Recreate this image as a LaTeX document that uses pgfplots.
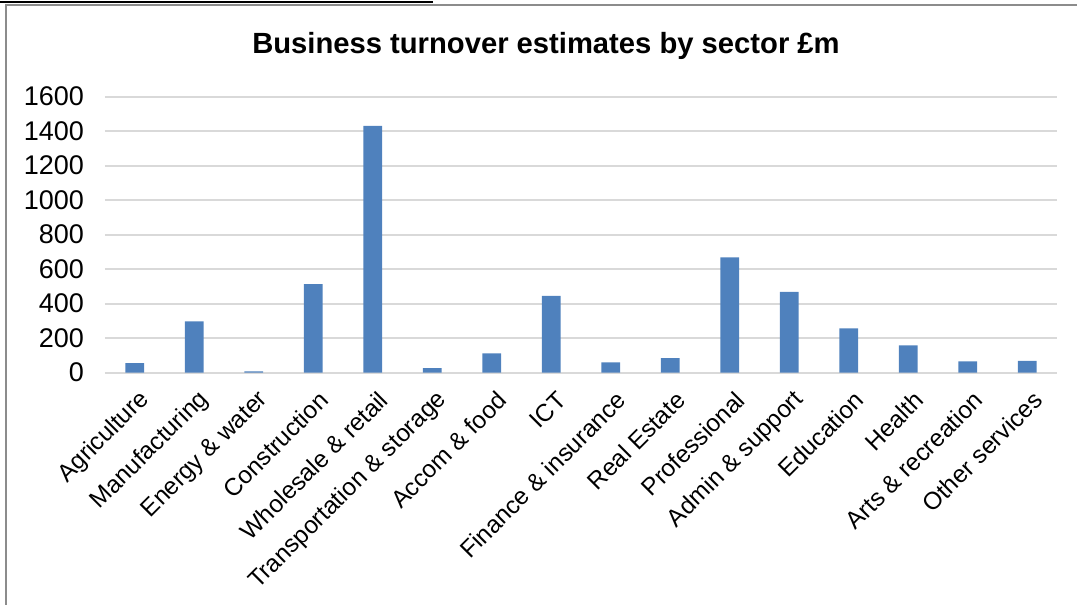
\documentclass[border=0pt]{standalone}
\usepackage{pgfplots}
\pgfplotsset{compat=1.18}
\usepackage{fontspec}
\setmainfont{Liberation Sans}
\definecolor{barblue}{HTML}{4F81BD}
\definecolor{gridgray}{HTML}{D9D9D9}
\definecolor{framegray}{HTML}{8C8C8C}
\begin{document}
\begin{tikzpicture}
\path[use as bounding box] (0,0) rectangle (538.5pt,302.5pt);
\draw[framegray, line width=1pt] (3pt,0) -- (3pt,300pt) -- (538.5pt,300pt);
\draw[black, line width=1.2pt] (0,301.6pt) -- (216.5pt,301.6pt);
\node[font=\bfseries\fontsize{14.6}{17}\selectfont] at (273pt,279.5pt) {Business turnover estimates by sector £m};
\begin{axis}[
  at={(52.5pt,116.15pt)}, anchor=south west,
  scale only axis, width=476pt, height=138pt,
  xmin=-0.5, xmax=15.5, ymin=0, ymax=1600,
  ytick={0,200,...,1600},
  xtick={0,...,15},
  xticklabels={Agriculture, Manufacturing, Energy \& water, Construction, Wholesale \& retail, Transportation \& storage, Accom \& food, ICT, Finance \& insurance, Real Estate, Professional, Admin \& support, Education, Health, Arts \& recreation, Other services},
  axis line style={draw=none},
  major tick length=0pt,
  ymajorgrids, grid style={gridgray, line width=1pt},
  /pgf/number format/assume math mode=true,
  /pgf/number format/set thousands separator={},
  yticklabel style={font=\fontsize{13.5}{16}\selectfont, anchor=east, xshift=-7pt},
  xticklabel style={font=\fontsize{12.2}{14}\selectfont, rotate=45, anchor=east, xshift=-1pt, yshift=-12pt},
  ybar, bar width=9.35pt,
  clip=false,
]
\addplot[fill=barblue, draw=none] coordinates {
(0,55) (1,298) (2,8) (3,514) (4,1431) (5,27) (6,112) (7,445)
(8,60) (9,85) (10,669) (11,468) (12,257) (13,159) (14,66) (15,68)};
\end{axis}
\end{tikzpicture}
\end{document}
